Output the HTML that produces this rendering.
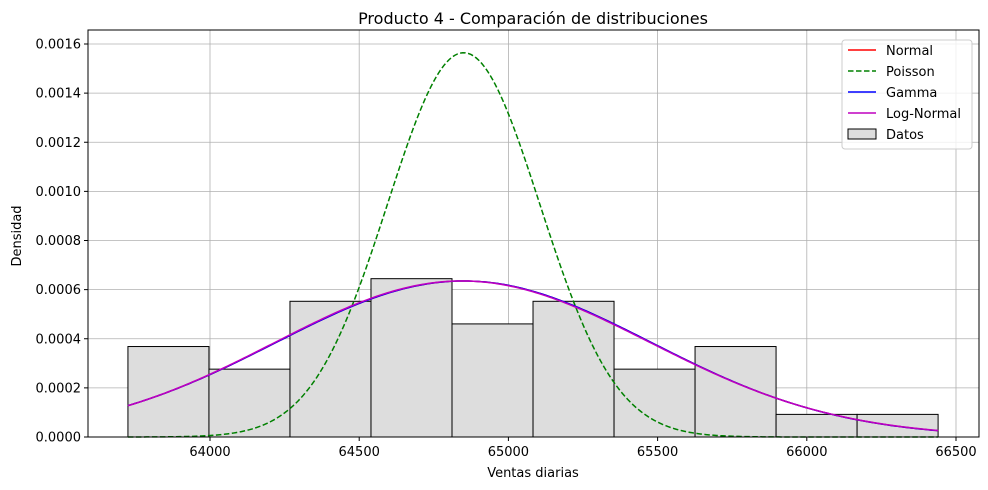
<!DOCTYPE html>
<html><head><meta charset="utf-8"><style>
body{margin:0;background:#fff}
svg{display:block;font-family:"DejaVu Sans","Liberation Sans",sans-serif}
</style></head><body>
<svg id="chart" width="988" height="490">
<rect width="988" height="490" fill="#fff"/>
<g id="grid"></g>
<g id="bars"></g>
<g id="curves"></g>
<rect x="88" y="30" width="891" height="407" fill="none" stroke="#000" stroke-width="1"/>
<g id="xt"></g>
<g id="yt"></g>
<text x="533" y="24" font-size="16" text-anchor="middle">Producto 4 - Comparación de distribuciones</text>
<text x="533" y="477" font-size="13" text-anchor="middle">Ventas diarias</text>
<text transform="translate(21,236) rotate(-90)" font-size="13" text-anchor="middle">Densidad</text>
<g>
<rect x="842" y="40" width="130" height="109" fill="#fff" fill-opacity="0.8" stroke="#ccc" rx="3"/>
<g><line x1="848" x2="876" y1="50" y2="50" stroke="red" stroke-width="1.5"/><text x="886" y="55" font-size="13">Normal</text></g>
<g><line x1="848" x2="876" y1="71" y2="71" stroke="green" stroke-width="1.5" stroke-dasharray="5.5,2.5"/><text x="886" y="76" font-size="13">Poisson</text></g>
<g><line x1="848" x2="876" y1="92" y2="92" stroke="blue" stroke-width="1.5"/><text x="886" y="97" font-size="13">Gamma</text></g>
<g><line x1="848" x2="876" y1="113" y2="113" stroke="#bf00bf" stroke-width="1.5"/><text x="886" y="118" font-size="13">Log-Normal</text></g>
<g><rect x="848" y="129" width="28" height="10" fill="#ddd" stroke="#000"/><text x="886" y="139" font-size="13">Datos</text></g>
</g>
</svg>
<script>
const binStart = [63725];
const binWidth = [271.5];
const counts = [4,3,6,7,5,6,3,4,1,1];
const xTicks = [64000,64500,65000,65500,66000,66500];
const yTicks = [0,0.0002,0.0004,0.0006,0.0008,0.0010,0.0012,0.0014,0.0016];
const yTickLabels = ["0.0000","0.0002","0.0004","0.0006","0.0008","0.0010","0.0012","0.0014","0.0016"];
const normalParams = [64850, 628];
const poissonParams = [64850, 255];
const gammaParams = [64850, 628];
const lognormParams = [64850, 628, 0.02];

const NS="http://www.w3.org/2000/svg";
const X=v=>210+(v-64000)*(746/2500);
const Y=v=>437-v*(393/0.0016);
function mk(t,a,p){const e=document.createElementNS(NS,t);for(const k in a)e.setAttribute(k,a[k]);p.appendChild(e);return e;}
const grid=document.getElementById('grid'),xt=document.getElementById('xt'),yt=document.getElementById('yt');
xTicks.forEach(v=>{
  const g=mk('line',{x1:X(v),x2:X(v),y1:30,y2:437,stroke:'#b0b0b0','stroke-width':0.8},grid);
  
  mk('line',{x1:X(v),x2:X(v),y1:437,y2:441,stroke:'#000'},xt);
  const t=mk('text',{x:X(v),y:456,'font-size':13,'text-anchor':'middle'},xt);t.textContent=v;
  
});
yTicks.forEach((v,i)=>{
  const g=mk('line',{x1:88,x2:979,y1:Y(v),y2:Y(v),stroke:'#b0b0b0','stroke-width':0.8},grid);
  
  mk('line',{x1:84,x2:88,y1:Y(v),y2:Y(v),stroke:'#000'},yt);
  const t=mk('text',{x:81,y:Y(v)+4.5,'font-size':13,'text-anchor':'end'},yt);t.textContent=yTickLabels[i];
  
});
const N=counts.reduce((a,b)=>a+b,0),w=binWidth[0];
const bars=document.getElementById('bars');
counts.forEach((c,i)=>{
  const x0=binStart[0]+i*w,d=c/(N*w);
  const r=mk('rect',{x:X(x0),y:Y(d),width:X(x0+w)-X(x0),height:Y(0)-Y(d),fill:'#dddddd',stroke:'#000','stroke-width':1},bars);
  
});
const lo=binStart[0],hi=binStart[0]+counts.length*w;
const npdf=(x,m,s)=>Math.exp(-0.5*((x-m)/s)**2)/(s*Math.sqrt(2*Math.PI));
function lnpdf(x,m,s,k){const z=(x-m)/s;return npdf(x,m,s)*(1+k*(z*z*z-3*z)/6);}
function curve(f,attrs,name){
  let d='';for(let i=0;i<=300;i++){const x=lo+(hi-lo)*i/300;d+=(i?'L':'M')+X(x).toFixed(2)+','+Y(f(x)).toFixed(2);}
  const p=mk('path',Object.assign({d:d,fill:'none','stroke-width':1.5},attrs),document.getElementById('curves'));
  
}
curve(x=>npdf(x,normalParams[0],normalParams[1]),{stroke:'red'},'normal-curve');
curve(x=>npdf(x,poissonParams[0],poissonParams[1]),{stroke:'green','stroke-dasharray':'5.5,2.5'},'poisson-curve');
curve(x=>npdf(x,gammaParams[0],gammaParams[1]),{stroke:'blue'},'gamma-curve');
curve(x=>lnpdf(x,lognormParams[0],lognormParams[1],lognormParams[2]),{stroke:'#bf00bf'},'lognormal-curve');
</script>
</body></html>
